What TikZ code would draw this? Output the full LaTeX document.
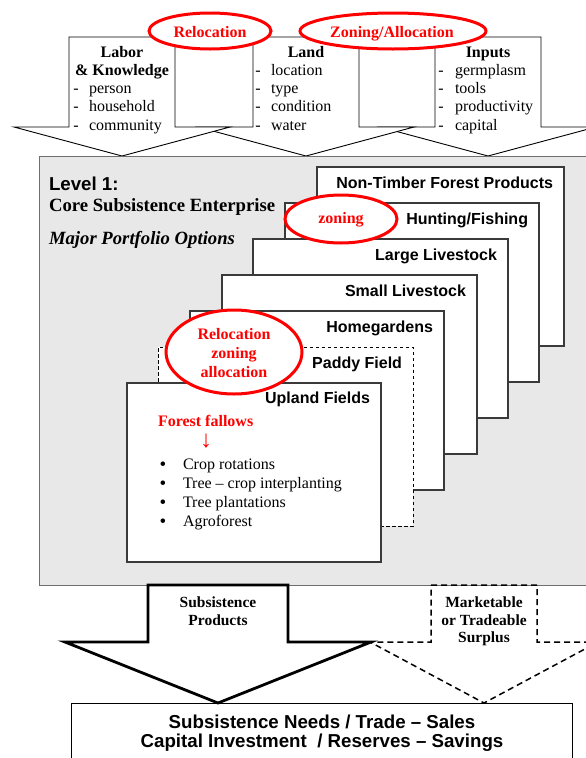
\documentclass[tikz,border=0pt]{standalone}
\usepackage{fontspec}
\setmainfont{Liberation Serif}
\newfontfamily\arialfont{Liberation Sans}
\usetikzlibrary{shapes.geometric,calc}

\definecolor{panelgray}{HTML}{E8E8E8}
\definecolor{paneledge}{HTML}{6E6E6E}
\definecolor{sheetedge}{HTML}{3A3A3A}
\definecolor{markred}{HTML}{FF0000}

\newcommand{\fsz}[2]{\fontsize{#1}{#2}\selectfont}

% down-pointing block arrow: [style]{centre x}{shaft half width}{head half width}{top}{base}{tip}
\newcommand{\downblock}[7][]{%
  \draw[#1] ({#2-#3},#5) -- ({#2+#3},#5) -- ({#2+#3},#6) -- ({#2+#4},#6)
    -- (#2,#7) -- ({#2-#4},#6) -- ({#2-#3},#6) -- cycle;}

\tikzset{
  every node/.style={inner sep=0pt, outer sep=0pt},
  inflow/.style={draw=black, line width=0.9pt, fill=white, line join=miter},
  yieldsolid/.style={draw=black, line width=2.8pt, fill=white, line join=miter, miter limit=25},
  yielddashed/.style={draw=black, line width=1.5pt, dash pattern=on 6pt off 4pt},
  panel/.style={draw=paneledge, line width=1pt, fill=panelgray, anchor=north west},
  sheet/.style={draw=sheetedge, line width=1.1pt, fill=white, anchor=north west},
  sheetdashed/.style={sheet, draw=black, line width=0.9pt, dash pattern=on 3.5pt off 2.5pt},
  sheetlabel/.style={font=\arialfont\bfseries\fsz{16}{18}, anchor=base east},
  headtxt/.style={font=\bfseries\fsz{16}{18}, anchor=base},
  itemtxt/.style={font=\fsz{16}{18}, anchor=base west},
  dashtxt/.style={font=\fsz{16}{18}, anchor=base},
  redring/.style={ellipse, draw=markred, line width=3pt, fill=white},
  redtxt/.style={font=\bfseries\fsz{16}{18}, text=markred, anchor=base},
  flowtxt/.style={font=\bfseries\fsz{15.5}{18}, anchor=base},
  bigsans/.style={font=\arialfont\bfseries\fsz{18.7}{22}},
  bigserif/.style={font=\bfseries\fsz{18.7}{22}},
}

\begin{document}
\begin{tikzpicture}[x=1pt,y=-1pt]
\useasboundingbox (0,0) rectangle (586,758);
\clip (0,0) rectangle (586,758);

% ---- resource inputs (right one at the back) ----
\downblock[inflow]{488}{53}{108}{37}{127}{156}
\downblock[inflow]{306}{53}{108}{37}{127}{156}
\downblock[inflow]{122}{53}{108}{37}{127}{156}

\node[headtxt] (labor) at (122,57) {Labor};
\node[headtxt] (know) at (122,75.25) {\& Knowledge};
\foreach \t [count=\i] in {person,household,community}
  { \node[dashtxt] (labor-d\i) at (76,{75.25+18.25*\i}) {-};
    \node[itemtxt] (labor-i\i) at (89,{75.25+18.25*\i}) {\t}; }

\node[headtxt] (land) at (306,57) {Land};
\foreach \t [count=\i] in {location,type,condition,water}
  { \node[dashtxt] (land-d\i) at (258,{57+18.25*\i}) {-};
    \node[itemtxt] (land-i\i) at (271,{57+18.25*\i}) {\t}; }

\node[headtxt] (inputs) at (488,57) {Inputs};
\foreach \t [count=\i] in {germplasm,tools,productivity,capital}
  { \node[dashtxt] (inp-d\i) at (441,{57+18.25*\i}) {-};
    \node[itemtxt] (inp-i\i) at (455,{57+18.25*\i}) {\t}; }

% ---- level 1 panel ----
\node[panel, minimum width=561, minimum height=429] (panel) at (39,156) {};
\node[bigsans, anchor=base west] (lvl) at (49,190) {Level 1:};
\node[bigserif, anchor=base west] (core) at (49,211.5) {Core Subsistence Enterprise};
\node[anchor=base west, font=\bfseries\itshape\fsz{18.7}{22}] (major) at (49,244) {Major Portfolio Options};

% ---- portfolio sheets, back to front ----
\node[sheet, minimum width=247, minimum height=179] (ntfp) at (317,167) {};
\node[sheetlabel] (ntfp-t) at ($(ntfp.north east)+(-11,21)$) {Non-Timber Forest Products};
\node[sheet, minimum width=254, minimum height=179] (hunt) at (285,203) {};
\node[sheetlabel] (hunt-t) at ($(hunt.north east)+(-11,21)$) {Hunting/Fishing};
\node[sheet, minimum width=255, minimum height=179] (large) at (253,239) {};
\node[sheetlabel] (large-t) at ($(large.north east)+(-11,21)$) {Large Livestock};
\node[sheet, minimum width=255, minimum height=179] (small) at (222,275) {};
\node[sheetlabel] (small-t) at ($(small.north east)+(-11,21)$) {Small Livestock};
\node[sheet, minimum width=254, minimum height=179] (home) at (190,311) {};
\node[sheetlabel] (home-t) at ($(home.north east)+(-11,21)$) {Homegardens};
\node[sheetdashed, minimum width=255, minimum height=179] (paddy) at (158,347) {};
\node[sheetlabel] (paddy-t) at ($(paddy.north east)+(-11,21)$) {Paddy Field};
\node[sheet, minimum width=254, minimum height=179] (upland) at (127,383) {};
\node[sheetlabel] (upland-t) at ($(upland.north east)+(-11,20.5)$) {Upland Fields};

\node[redtxt, anchor=base west] (fallow) at (158,426) {Forest fallows};
\node[redtxt, font=\fsz{24}{24}] (fallow-arrow) at (206,447) {↓};
\foreach \t [count=\i] in {Crop rotations,Tree – crop interplanting,Tree plantations,Agroforest}
  { \node[dashtxt, font=\fsz{19}{19}] (bul\i) at (163,{470+19.33*(\i-1)}) {•};
    \node[itemtxt] (opt\i) at (183,{469+19.33*(\i-1)}) {\t}; }

% ---- outputs ----
\node[draw=black, line width=1pt, fill=white, anchor=north west,
      minimum width=501, minimum height=80] (outcome) at (71,703) {};
\node[bigsans, anchor=base] (out1) at (322,728) {Subsistence Needs / Trade – Sales};
\node[bigsans, anchor=base] (out2) at (322,747) {Capital Investment\ \ / Reserves – Savings};

\downblock[yielddashed]{484}{53}{114}{585}{642}{703}
\downblock[yieldsolid]{218}{70}{153}{585}{642}{703}

\node[flowtxt] (subs1) at (218,607) {Subsistence};
\node[flowtxt] (subs2) at (218,625) {Products};
\node[flowtxt] (surp1) at (484,607) {Marketable};
\node[flowtxt] (surp2) at (484,625) {or Tradeable};
\node[flowtxt] (surp3) at (484,642.5) {Surplus};

% ---- policy rings ----
\node[redring, minimum width=122, minimum height=36] (reloc) at (210,31) {};
\node[redtxt] (reloc-t) at (210,37) {Relocation};
\node[redring, minimum width=186, minimum height=36] (zonalloc) at (393,31) {};
\node[redtxt] (zonalloc-t) at (392,37) {Zoning/Allocation};
\node[redring, minimum width=112, minimum height=48] (zoning) at (341,219) {};
\node[redtxt] (zoning-t) at (341,223) {zoning};
\node[redring, minimum width=136, minimum height=84] (rza) at (234,352) {};
\node[redtxt] (rza-1) at (234,339) {Relocation};
\node[redtxt] (rza-2) at (234,358) {zoning};
\node[redtxt] (rza-3) at (234,377) {allocation};
\end{tikzpicture}
\end{document}
